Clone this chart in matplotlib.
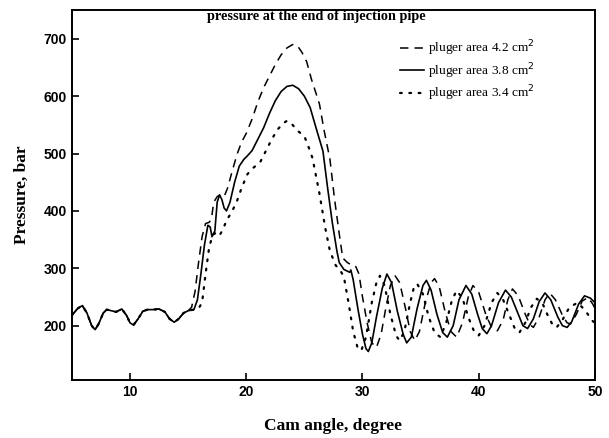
import matplotlib.pyplot as plt

# common low-pressure part before injection (all three curves coincide)
base_angle = [5.0, 5.5, 5.9, 6.3, 6.7, 7.0, 7.3, 7.7, 8.0, 8.4, 8.8, 9.3, 9.7, 10.0, 10.3,
              10.7, 11.1, 11.5, 12.0, 12.5, 13.0, 13.4, 13.8, 14.2, 14.6, 15.0]
base_p = [218, 230, 235, 222, 200, 193, 203, 222, 228, 226, 224, 229, 218, 205, 201,
          212, 225, 228, 228, 229, 224, 212, 206, 212, 222, 226]

# plunger area 4.2 cm2
angle_42 = [15.3, 15.6, 15.9, 16.2, 16.5, 16.8, 17.0, 17.2, 17.5, 17.8, 18.1, 18.4, 18.8,
            19.2, 19.6, 20.0, 20.5, 21.0, 21.5, 22.0, 22.5, 23.0, 23.5, 24.0, 24.4, 24.8,
            25.2, 25.6, 26.0, 26.3, 26.7, 27.2, 27.6, 28.0, 28.3, 28.7, 29.1, 29.4, 29.7,
            30.0, 30.4, 30.8, 31.2, 31.6, 32.0, 32.4, 32.8, 33.2, 33.7, 34.1, 34.5, 34.9,
            35.4, 35.9, 36.2, 36.6, 37.1, 37.6, 38.1, 38.6, 39.1, 39.5, 40.0, 40.6, 41.1,
            41.6, 42.1, 42.5, 42.9, 43.4, 44.0, 44.4, 44.7, 45.2, 45.7, 46.1, 46.6, 47.2,
            47.6, 47.9, 48.4, 48.9, 49.4, 49.8, 50.0]
p_42 = [232, 260, 310, 355, 378, 380, 385, 415, 425, 428, 425, 440, 470,
        498, 520, 535, 560, 590, 615, 635, 655, 672, 684, 690, 688, 676,
        660, 630, 605, 586, 540, 490, 420, 360, 318, 310, 305, 304, 290,
        250, 205, 170, 162, 185, 230, 270, 287, 275, 230, 190, 174, 190,
        240, 275, 282, 268, 225, 190, 180, 205, 250, 270, 258, 220, 197,
        191, 210, 245, 264, 252, 220, 202, 197, 215, 245, 257, 245, 218,
        205, 203, 220, 243, 249, 238, 230]

# plunger area 3.8 cm2
angle_38 = [15.5, 15.8, 16.1, 16.4, 16.7, 16.9, 17.05, 17.3, 17.5, 17.7, 17.9, 18.1, 18.3,
            18.6, 19.0, 19.4, 19.8, 20.1, 20.5, 21.0, 21.5, 22.0, 22.5, 23.0, 23.5, 24.0,
            24.5, 25.0, 25.5, 26.0, 26.6, 27.0, 27.4, 27.8, 28.0, 28.4, 28.9, 29.0, 29.2,
            29.6, 30.0, 30.3, 30.5, 30.8, 31.2, 31.7, 32.1, 32.5, 33.0, 33.5, 33.8, 34.2,
            34.7, 35.2, 35.5, 35.9, 36.4, 36.9, 37.3, 37.8, 38.3, 38.9, 39.4, 39.9, 40.3,
            40.7, 41.1, 41.7, 42.3, 42.8, 43.4, 43.8, 44.2, 44.7, 45.2, 45.7, 46.2, 46.8,
            47.2, 47.6, 48.0, 48.6, 49.1, 49.6, 50.0]
p_38 = [228, 245, 290, 340, 375, 372, 355, 365, 415, 428, 420, 405, 400,
        415, 450, 478, 490, 496, 505, 525, 545, 570, 592, 608, 617, 619,
        613, 600, 580, 545, 504, 440, 380, 330, 310, 298, 293, 297, 280,
        230, 185, 160, 155, 170, 215, 265, 290, 275, 225, 185, 170, 180,
        230, 270, 279, 262, 220, 188, 180, 200, 245, 270, 255, 220, 195,
        186, 200, 240, 262, 250, 220, 200, 195, 212, 242, 257, 245, 215,
        200, 197, 207, 238, 252, 248, 240]

# plunger area 3.4 cm2
angle_34 = [15.5, 15.9, 16.2, 16.5, 16.8, 17.1, 17.4, 17.7, 18.0, 18.3, 18.8, 19.2, 19.6,
            20.1, 20.6, 21.2, 21.7, 22.2, 22.7, 23.2, 23.5, 23.9, 24.4, 25.0, 25.3, 25.7,
            26.3, 26.8, 27.2, 27.7, 28.1, 28.4, 28.8, 29.2, 29.6, 29.9, 30.3, 30.8, 31.2,
            31.5, 31.9, 32.4, 32.9, 33.2, 33.6, 34.1, 34.4, 34.7, 35.2, 35.7, 36.2, 36.7,
            37.2, 37.7, 38.1, 38.6, 39.1, 39.6, 40.0, 40.5, 41.1, 41.6, 42.1, 42.7, 43.1,
            43.5, 44.0, 44.5, 45.0, 45.5, 46.0, 46.4, 46.7, 47.2, 47.8, 48.5, 49.1, 49.8,
            50.0]
p_34 = [228, 230, 240, 290, 335, 358, 362, 357, 368, 383, 400, 417, 440,
        464, 475, 485, 505, 525, 542, 553, 557, 552, 540, 530, 515, 492,
        430, 370, 330, 305, 296, 285, 240, 190, 160, 157, 180, 240, 275,
        287, 270, 220, 182, 174, 190, 240, 265, 273, 255, 215, 188, 180,
        205, 245, 261, 248, 215, 190, 183, 200, 240, 257, 245, 215, 195,
        188, 205, 232, 247, 238, 215, 200, 197, 210, 232, 240, 228, 208,
        205]

labels = ['pluger area 4.2 cm$^2$', 'pluger area 3.8 cm$^2$', 'pluger area 3.4 cm$^2$']

fig = plt.figure(figsize=(6.09, 4.38), dpi=100)
ax = fig.add_axes([0.118, 0.132, 0.859, 0.845])

ax.plot(base_angle + angle_42, base_p + p_42, color='black', lw=1.1,
        linestyle=(0, (5.5, 4)), label=labels[0])
ax.plot(base_angle + angle_38, base_p + p_38, color='black', lw=1.2,
        linestyle='-', label=labels[1])
ax.plot(base_angle + angle_34, base_p + p_34, color='black', lw=1.6,
        linestyle=(0, (0.8, 3.4)), dash_capstyle='round', label=labels[2])

ax.set_xlim(5, 50)
ax.set_ylim(105, 750)
ax.set_xticks([10, 20, 30, 40, 50])
ax.set_yticks([200, 300, 400, 500, 600, 700])
ax.tick_params(direction='in', length=5, width=1.2, labelsize=10)
for lab in ax.get_xticklabels() + ax.get_yticklabels():
    lab.set_fontweight('bold')
    lab.set_family('Liberation Sans')
for sp in ax.spines.values():
    sp.set_linewidth(1.4)

ax.set_xlabel('Cam angle, degree', family='Liberation Serif', fontweight='bold',
              fontsize=12.5, labelpad=14)
ax.set_ylabel('Pressure, bar', family='Liberation Serif', fontweight='bold',
              fontsize=12.5, labelpad=10)

ax.text(0.468, 0.982, 'pressure at the end of injection pipe', transform=ax.transAxes,
        ha='center', va='center', family='Liberation Serif', fontweight='bold', fontsize=10.3)

ax.legend(loc='upper left', bbox_to_anchor=(0.605, 0.955), frameon=False,
          prop={'family': 'Liberation Serif', 'size': 9.6}, handlelength=1.75,
          handletextpad=0.35, labelspacing=0.22)

fig.savefig('out.png', dpi=100)
